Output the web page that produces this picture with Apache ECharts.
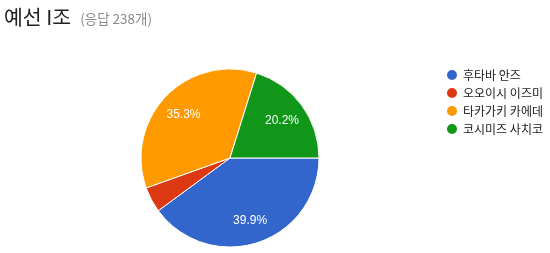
<!DOCTYPE html>
<html><head><meta charset="utf-8">
<script src="https://cdn.jsdelivr.net/npm/echarts@6/dist/echarts.min.js"></script>
<style>html,body{margin:0;padding:0;background:#fff}#c{width:550px;height:253px}</style>
</head><body><div id="c"></div>
<script>
const titleText = '예선 I조';
const subtitleText = '(응답 238개)';
const categories = ['후타바 안즈', '오오이시 이즈미', '타카가키 카에데', '코시미즈 사치코'];
const values = [95, 11, 84, 48];
const colors = ['#3366cc', '#dc3912', '#ff9900', '#109618'];

const total = values.reduce((a, b) => a + b, 0);
const data = categories.map((n, i) => ({ name: n, value: values[i] }));
const chart = echarts.init(document.getElementById('c'));
chart.setOption({
  animation: false,
  color: colors,
  title: {
    left: -1, top: 2,
    text: '{a|' + titleText + '}{b|' + subtitleText + '}',
    textStyle: {
      fontWeight: 'normal',
      rich: {
        a: { fontFamily: 'Noto Sans CJK KR', fontSize: 20.5, fontWeight: 'normal', color: '#212121' },
        b: { fontFamily: 'Noto Sans CJK KR', fontSize: 13.5, fontWeight: 'normal', color: '#8a8a8a', padding: [3, 0, 0, 9] }
      }
    }
  },
  legend: {
    orient: 'vertical', left: 440, top: 63,
    icon: 'circle', itemWidth: 12, itemHeight: 12, itemGap: 4,
    textStyle: { fontFamily: 'Noto Sans CJK KR', fontSize: 12, color: '#222' },
    data: categories
  },
  series: [{
    type: 'pie', center: [230, 158], radius: [0, 89],
    startAngle: 0, clockwise: true,
    itemStyle: { borderColor: '#fff', borderWidth: 1 },
    label: { show: false }, labelLine: { show: false },
    emphasis: { disabled: true },
    data: data
  }, {
    type: 'pie', center: [230, 159], radius: [34, 89],
    startAngle: 0, clockwise: true, silent: true,
    itemStyle: { color: 'rgba(0,0,0,0)', borderWidth: 0 },
    label: {
      show: true, position: 'inside', color: '#fff', fontSize: 12,
      fontFamily: 'Arial, Liberation Sans, sans-serif',
      formatter: p => (p.value / total < 0.05) ? '' : (p.value / total * 100).toFixed(1) + '%'
    },
    labelLine: { show: false },
    emphasis: { disabled: true },
    data: data
  }]
});
</script></body></html>
